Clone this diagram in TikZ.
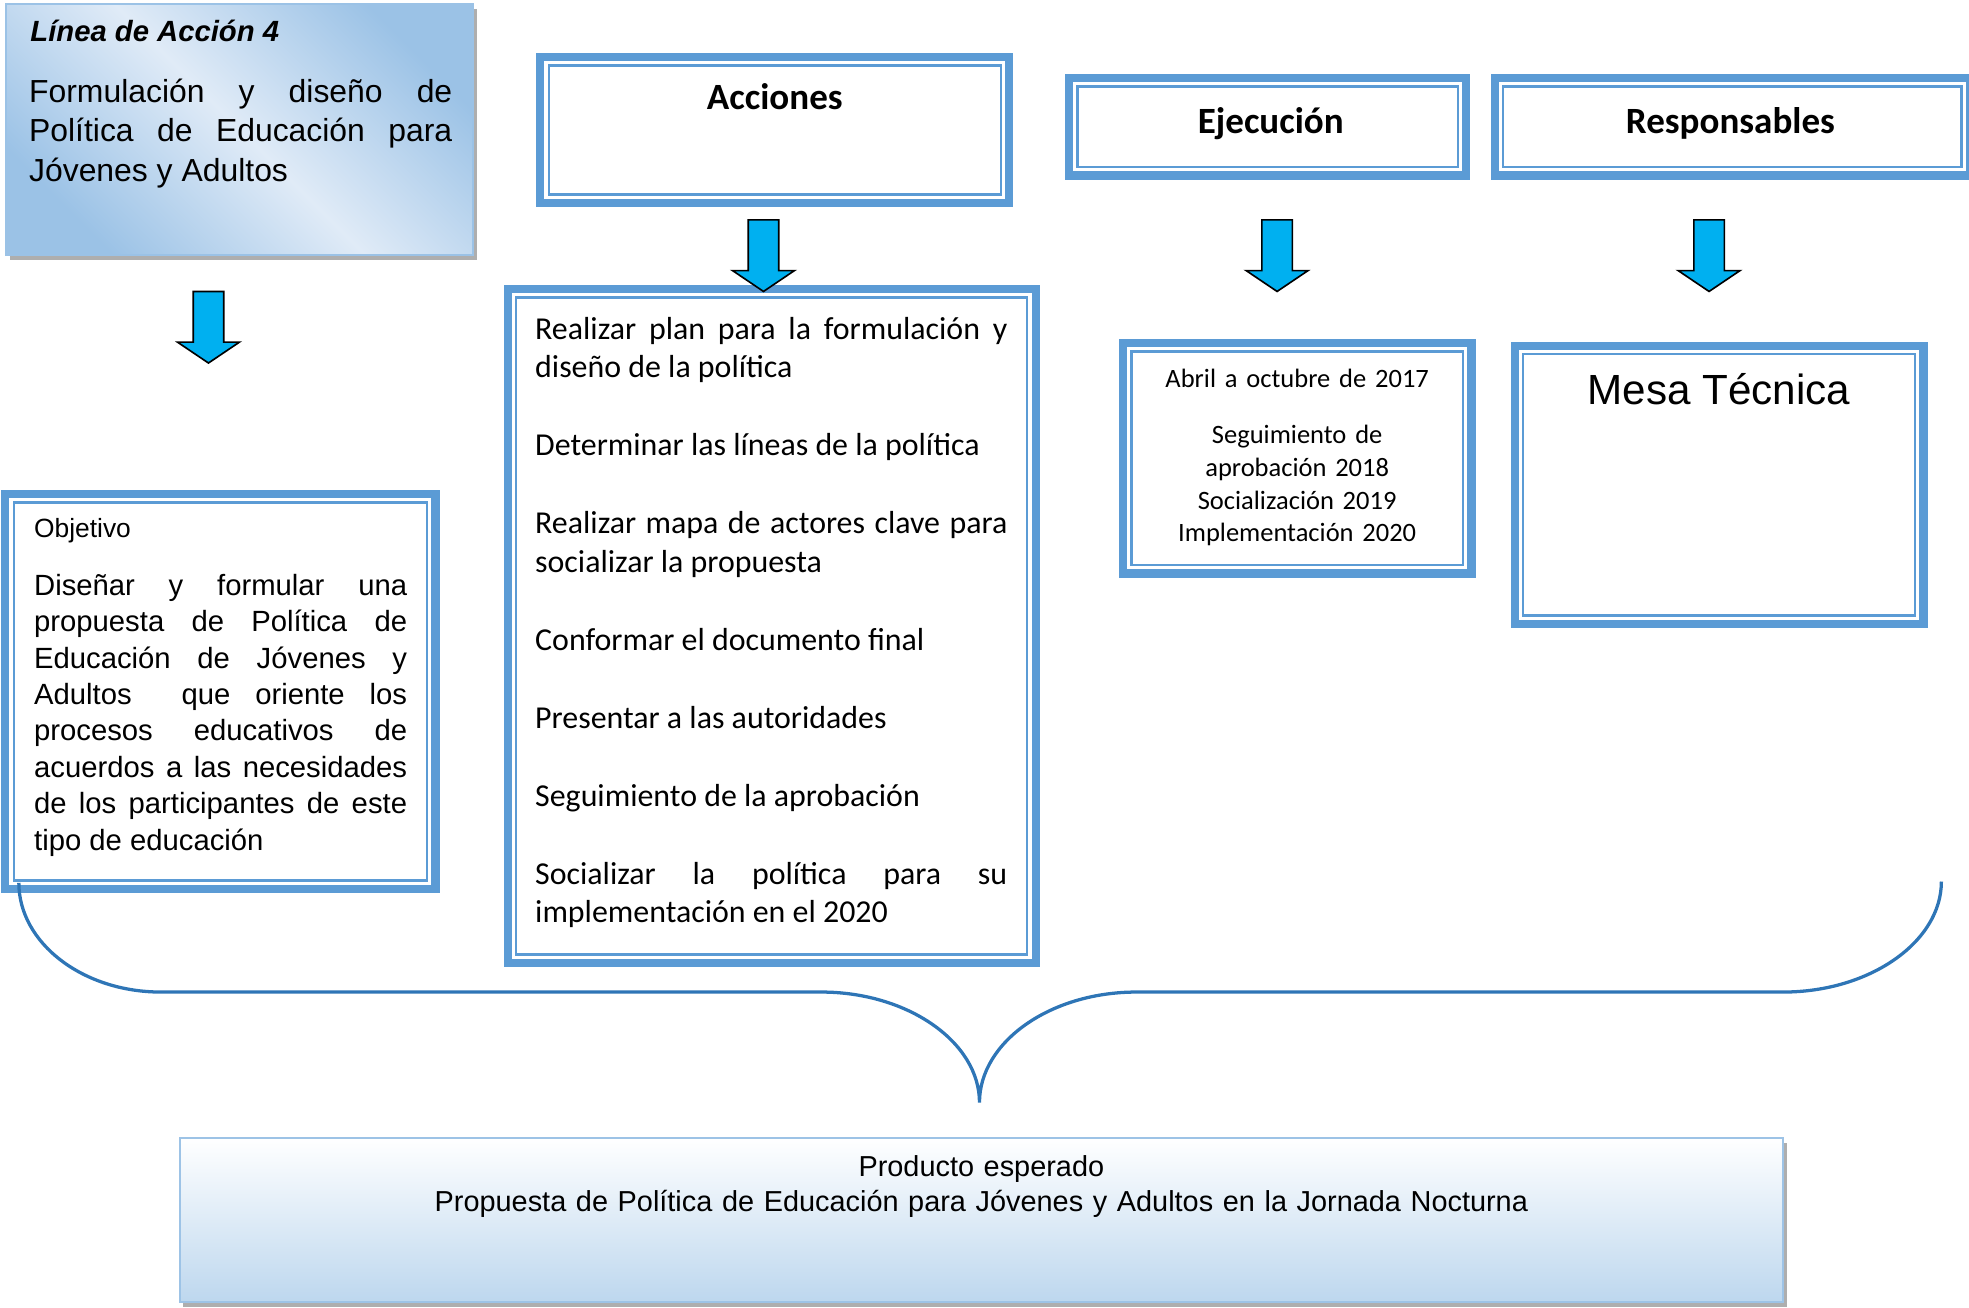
\documentclass[tikz,border=0pt]{standalone}
\usepackage{fontspec}
\setmainfont{Liberation Sans}
\newfontfamily\calibri{Carlito}
\usepackage{tikz}
\usetikzlibrary{shapes.arrows}
\usetikzlibrary{shadows}
\definecolor{boxblue}{HTML}{5B9BD5}
\definecolor{arrowcyan}{HTML}{00B0F0}
\definecolor{braceblue}{HTML}{2E75B6}
\definecolor{shadedark}{RGB}{155,194,230}
\definecolor{shadelight}{RGB}{224,235,247}
\definecolor{prodblue}{RGB}{189,215,238}
\definecolor{prodedge}{RGB}{157,195,230}
\hyphenpenalty=10000
\tikzset{
	% Blue frame with a thick outer line and a thin inner line
	double box/.style={draw=boxblue,line width=6.5pt,fill=white,inner sep=0,outer sep=0,
		path picture={\draw[boxblue,line width=2pt]
			([shift={(6.75pt,6.75pt)}]path picture bounding box.south west) rectangle
			([shift={(-6.75pt,-6.75pt)}]path picture bounding box.north east);}},
	% Shaded boxes with a soft shadow
	shaded box/.style={draw=prodedge,line width=1.5pt,inner sep=0,outer sep=0,
		drop shadow={shadow xshift=3pt,shadow yshift=-4pt,fill=black!45,opacity=0.7}},
	% Block arrows pointing down
	down arrow/.style={single arrow,draw=black,line width=1.3pt,fill=arrowcyan,rotate=-90,
		minimum height=57pt,minimum width=48pt,single arrow head extend=12.5pt,
		single arrow tip angle=112,single arrow head indent=0pt,
		inner xsep=0,inner ysep=11.5pt,outer sep=0},
	brace line/.style={draw=braceblue,line width=2.6pt}
}
\begin{document}
\begin{tikzpicture}[x=1pt,y=-1pt]
	% macro for the block arrows and for the gaps in the list
	\newcommand{\downarr}[2]{\node[down arrow](#1)at(#2){};}
	\newcommand{\itemgap}{\par\vspace{31pt}}
	\useasboundingbox (0,0) rectangle (1568,1041);
	
	% Boxes
	\node(linea)[shaded box,draw=shadedark,minimum width=372pt,minimum height=200pt,
		top color=shadedark,bottom color=shadedark,middle color=shadelight,shading angle=-45]at(191,103){};
	\node(acc)[double box,minimum width=373.5pt,minimum height=116.5pt]at(617,103.5){};
	\node(eje)[double box,minimum width=316.5pt,minimum height=77.5pt]at(1009.5,101){};
	\node(resp)[double box,minimum width=378.5pt,minimum height=77.5pt]at(1379.5,101){};
	\node(obj)[double box,minimum width=342.5pt,minimum height=314.5pt]at(175.5,550.5){};
	\node(acc-list)[double box,minimum width=420.5pt,minimum height=536.5pt]at(614.5,498.5){};
	\node(eje-list)[double box,minimum width=277.5pt,minimum height=183.5pt]at(1033,365){};
	\node(mesa)[double box,minimum width=325.5pt,minimum height=221.5pt]at(1369,386){};
	\node(prod)[shaded box,minimum width=1277pt,minimum height=131pt,
		top color=white,bottom color=prodblue]at(781.5,971.5){};
	
	% Texts
	\node(linea-title)[anchor=base west,inner sep=0,font=\bfseries\itshape\fontsize{23.3}{28}\selectfont]
		at(24,33){Línea de Acción 4};
	\node(linea-text)[anchor=base west,inner sep=0,text width=337pt,align=justify,
		font=\fontsize{25.4}{31.5}\selectfont]at(23,81.5)
		{Formulación y diseño de\linebreak Política de Educación para\linebreak Jóvenes y Adultos};
	\node(acc-head)[anchor=base,inner sep=0,font=\calibri\bfseries\fontsize{29.5}{35}\selectfont]
		at(617,87){Acciones};
	\node(eje-head)[anchor=base,inner sep=0,font=\calibri\bfseries\fontsize{29.5}{35}\selectfont]
		at(1012,106){Ejecución};
	\node(resp-head)[anchor=base,inner sep=0,font=\calibri\bfseries\fontsize{29.5}{35}\selectfont]
		at(1378,106){Responsables};
	\node(obj-label)[anchor=base west,inner sep=0,font=\fontsize{21}{25}\selectfont]
		at(27,428){Objetivo};
	\node(obj-text)[anchor=base west,inner sep=0,text width=297pt,align=justify,
		font=\fontsize{23.3}{29}\selectfont]at(27,474)
		{Diseñar y formular una\linebreak propuesta de Política de\linebreak Educación de Jóvenes y\linebreak
		Adultos\ \ que oriente los\linebreak procesos educativos de\linebreak acuerdos a las necesidades\linebreak
		de los participantes de este\linebreak tipo de educación};
	\node(acc-text)[anchor=base west,inner sep=0,text width=376pt,align=justify,
		font=\calibri\fontsize{25.4}{31}\selectfont]at(426,270)
		{Realizar plan para la formulación y\linebreak diseño de la política\itemgap
		Determinar las líneas de la política\itemgap
		Realizar mapa de actores clave para\linebreak socializar la propuesta\itemgap
		Conformar el documento final\itemgap
		Presentar a las autoridades\itemgap
		Seguimiento de la aprobación\itemgap
		Socializar la política para su\linebreak implementación en el 2020};
	\node(eje-text)[anchor=base,inner sep=0,text width=250pt,align=center,
		font=\calibri\fontsize{21.1}{26}\selectfont]at(1033,308.5)
		{Abril a octubre de 2017\\[19pt]Seguimiento de\\aprobación 2018\\Socialización 2019\\Implementación 2020};
	\node(mesa-text)[anchor=base,inner sep=0,font=\fontsize{33.6}{40}\selectfont]
		at(1369,322){Mesa Técnica};
	\node(prod-text)[anchor=base,inner sep=0,text width=1200pt,align=center,
		font=\fontsize{23}{28}\selectfont]at(781.5,937)
		{Producto esperado\\Propuesta de Política de Educación para Jóvenes y Adultos en la Jornada Nocturna};
	
	% Arrows
	\downarr{linea-arrow}{166,256.5}
	\downarr{acc-arrow}{608,199.5}
	\downarr{eje-arrow}{1017,199.5}
	\downarr{resp-arrow}{1361,199.5}
	
	% Brace towards the expected product
	\coordinate(brace-l)at(15,703);
	\coordinate(brace-tip)at(780,878);
	\coordinate(brace-r)at(1546,702);
	\draw[brace line](brace-l).. controls (15,751) and (66,790) ..(128,790)--(654,790)
		.. controls (723,790) and (780,830) ..(brace-tip)
		.. controls (780,830) and (836,790) ..(905,790)--(1420,790)
		.. controls (1489,790) and (1546,750) ..(brace-r);
\end{tikzpicture}
\end{document}
